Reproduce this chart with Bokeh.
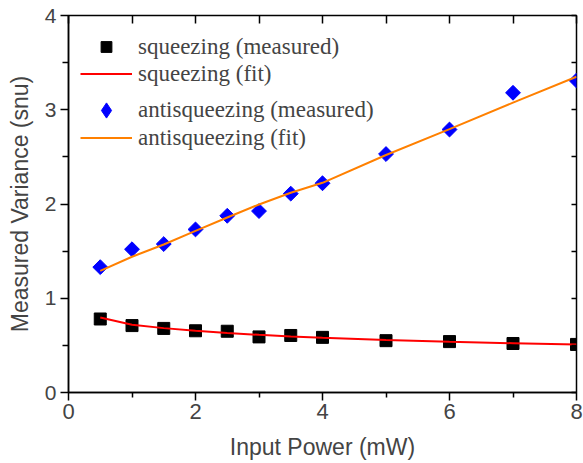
import numpy as np
from bokeh.plotting import figure
from bokeh.models import (ColumnDataSource, Legend, LegendItem, LinearAxis, FixedTicker, Range1d)
from bokeh.embed import file_html
from bokeh.resources import INLINE

# ---- data ----
power_measured = [0.5, 1, 1.5, 2, 2.5, 3, 3.5, 4, 5, 6, 7, 8]
squeezing_measured = [0.78, 0.71, 0.68, 0.655, 0.65, 0.59, 0.605, 0.585, 0.55, 0.54, 0.52, 0.51]
antisqueezing_measured = [1.33, 1.52, 1.575, 1.73, 1.875, 1.925, 2.11, 2.22, 2.53, 2.79, 3.18, 3.31]

power_fit = [0.5, 1, 1.5, 2, 2.5, 3, 3.5, 4, 5, 6, 7, 8]
squeezing_fit = [0.796, 0.718, 0.683, 0.655, 0.632, 0.612, 0.595, 0.58, 0.556, 0.538, 0.523, 0.508]
antisqueezing_fit = [1.29, 1.44, 1.57, 1.715, 1.857, 1.995, 2.12, 2.225, 2.52, 2.795, 3.075, 3.35]

x_ticks = [0, 2, 4, 6, 8]
x_minor = [1, 3, 5, 7]
y_ticks = [0, 1, 2, 3, 4]
y_minor = [0.5, 1.5, 2.5, 3.5]

x_title = "Input Power (mW)"
y_title = "Measured Variance (snu)"
labels = ["squeezing (measured)", "squeezing (fit)", "antisqueezing (measured)", "antisqueezing (fit)"]

SANS = "Liberation Sans"
SERIF = "Liberation Serif"

p = figure(width=583, height=463, output_backend="svg", toolbar_location=None,
           x_range=Range1d(0, 8), y_range=Range1d(0, 4),
           min_border_left=68, min_border_right=7, min_border_top=15, min_border_bottom=71,
           x_axis_label=x_title, y_axis_label=y_title)

p.grid.visible = False
p.outline_line_color = "black"
p.outline_line_width = 1.5
p.background_fill_color = "white"
p.border_fill_color = "white"

# bottom axis
xa = p.xaxis[0]
xa.ticker = FixedTicker(ticks=x_ticks, minor_ticks=x_minor)
xa.axis_line_width = 1.5
xa.major_tick_in = 0
xa.major_tick_out = 8
xa.minor_tick_in = 0
xa.minor_tick_out = 5
xa.major_tick_line_width = 1.5
xa.minor_tick_line_width = 1.5
xa.major_label_text_font = SANS
xa.major_label_text_font_size = "22px"
xa.major_label_standoff = 3
xa.axis_label_text_font = SANS
xa.axis_label_text_font_size = "23px"
xa.axis_label_text_font_style = "normal"
xa.axis_label_standoff = 12

# left axis
ya = p.yaxis[0]
ya.ticker = FixedTicker(ticks=y_ticks, minor_ticks=y_minor)
ya.axis_line_width = 1.5
ya.major_tick_in = 0
ya.major_tick_out = 8
ya.minor_tick_in = 0
ya.minor_tick_out = 6
ya.major_tick_line_width = 1.5
ya.minor_tick_line_width = 1.5
ya.major_label_text_font = SANS
ya.major_label_text_font_size = "21px"
ya.major_label_standoff = 4
ya.axis_label_text_font = SANS
ya.axis_label_text_font_size = "23px"
ya.axis_label_text_font_style = "normal"
ya.axis_label_standoff = 9

# mirrored top / right axes (ticks inward, no labels)
top = LinearAxis(ticker=FixedTicker(ticks=x_ticks, minor_ticks=x_minor),
                 major_tick_in=8, major_tick_out=0, minor_tick_in=8, minor_tick_out=0,
                 major_tick_line_width=1.5, minor_tick_line_width=1.5,
                 axis_line_color=None, major_label_standoff=0,
                 major_label_overrides={t: "" for t in x_ticks})
p.add_layout(top, "above")
right = LinearAxis(ticker=FixedTicker(ticks=y_ticks, minor_ticks=y_minor),
                   major_tick_in=5, major_tick_out=0, minor_tick_in=5, minor_tick_out=0,
                   major_tick_line_width=1.5, minor_tick_line_width=1.5,
                   axis_line_color=None, major_label_standoff=0,
                   major_label_overrides={t: "" for t in y_ticks})
p.add_layout(right, "right")

src_m = ColumnDataSource(dict(x=power_measured, s=squeezing_measured, a=antisqueezing_measured))
src_f = ColumnDataSource(dict(x=power_fit, s=squeezing_fit, a=antisqueezing_fit))

r_sm = p.scatter("x", "s", source=src_m, marker="square", size=12,
                 fill_color="black", line_color="black")
r_sf = p.line("x", "s", source=src_f, line_color="#ff0000", line_width=2)
r_am = p.scatter("x", "a", source=src_m, marker="square", size=10.5, angle=np.pi / 4,
                 fill_color="#0000ff", line_color="#0000ff")
r_af = p.line("x", "a", source=src_f, line_color="#ff8000", line_width=2)
# legend-only diamond glyph (hidden from the plot area)
r_am_leg = p.scatter("x", "a", source=src_m, marker="diamond", size=15,
                     fill_color="#0000ff", line_color="#0000ff", visible=False)


def make_legend(item, loc, gh=27):
    return Legend(items=[item], location=loc, padding=0, margin=0, spacing=0,
                  glyph_width=52, glyph_height=gh, label_height=27, label_standoff=6,
                  label_text_font=SERIF, label_text_font_size="23px",
                  border_line_color=None, background_fill_alpha=0)


p.add_layout(make_legend(LegendItem(label=labels[0], renderers=[r_sm]), (12, 332)), "center")
p.add_layout(make_legend(LegendItem(label=labels[1], renderers=[r_sf]), (12, 305)), "center")
p.add_layout(make_legend(LegendItem(label=labels[2], renderers=[r_am_leg]), (12, 263), gh=38), "center")
p.add_layout(make_legend(LegendItem(label=labels[3], renderers=[r_af]), (12, 241)), "center")

open("out.html", "w").write(file_html(p, INLINE))
